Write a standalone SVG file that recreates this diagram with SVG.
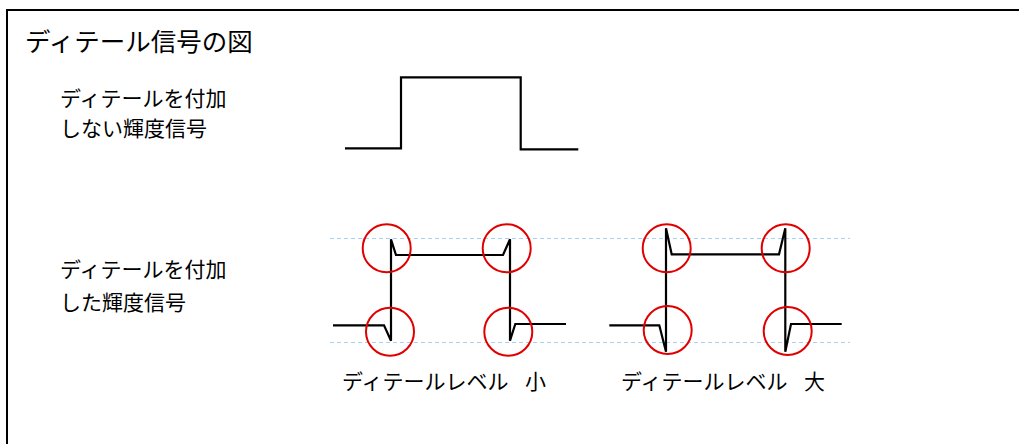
<svg xmlns="http://www.w3.org/2000/svg" width="1019" height="444" viewBox="0 0 1019 444">
<style>
text{font-family:"Noto Sans CJK JP","Noto Sans",sans-serif;fill:#000;}
.lbl{font-size:21px;}
.title{font-size:25.5px;}
.wave{fill:none;stroke:#000;stroke-width:2.2;stroke-linejoin:miter;}
.ring{fill:none;stroke:#e00000;stroke-width:2;}
.guide{stroke:#a8d0f0;stroke-width:1;stroke-dasharray:4 3;fill:none;}
</style>
<rect x="7" y="10" width="1030" height="460" fill="#fff" stroke="#000" stroke-width="2"/>
<g id="title"><text class="title" x="25" y="51">ディテール信号の図</text></g>
<g id="label-plain"><text class="lbl" x="60" y="106">ディテールを付加</text><text class="lbl" x="60" y="136">しない輝度信号</text></g>
<g id="label-detail"><text class="lbl" x="60" y="277">ディテールを付加</text><text class="lbl" x="60" y="310">した輝度信号</text></g>
<g id="guides">
<line class="guide" x1="330" y1="238.5" x2="850" y2="238.5"/>
<line class="guide" x1="330" y1="342.5" x2="850" y2="342.5"/>
</g>
<g id="pulse-plain"><path class="wave" d="M345,148.3 L401,148.3 L401,77.3 L520.7,77.3 L520.7,149.3 L578.3,149.3"/></g>
<g id="pulse-small">
<path class="wave" d="M333,325.3 L384,325.3 L391,340.7 L391,239.3 L396,255 L503,255 L510,239.3 L510,340.7 L515.3,324 L566,324"/>
<circle class="ring" cx="386.7" cy="248.3" r="24"/>
<circle class="ring" cx="390" cy="331.7" r="24"/>
<circle class="ring" cx="506.7" cy="248.3" r="24"/>
<circle class="ring" cx="508.3" cy="331.7" r="24"/>
<text class="lbl" x="342" y="389">ディテールレベル <tspan x="525">小</tspan></text>
</g>
<g id="pulse-large">
<path class="wave" d="M609.3,325.3 L659.3,325.3 L666,351.7 L666,228.3 L671.7,254.3 L779,254.3 L785.3,228.3 L785.3,351.7 L791,324 L841.7,324"/>
<circle class="ring" cx="666.7" cy="248.3" r="24"/>
<circle class="ring" cx="667.7" cy="330" r="24"/>
<circle class="ring" cx="785.7" cy="248.3" r="24"/>
<circle class="ring" cx="787.7" cy="331" r="24"/>
<text class="lbl" x="621" y="389">ディテールレベル <tspan x="804">大</tspan></text>
</g>
</svg>
